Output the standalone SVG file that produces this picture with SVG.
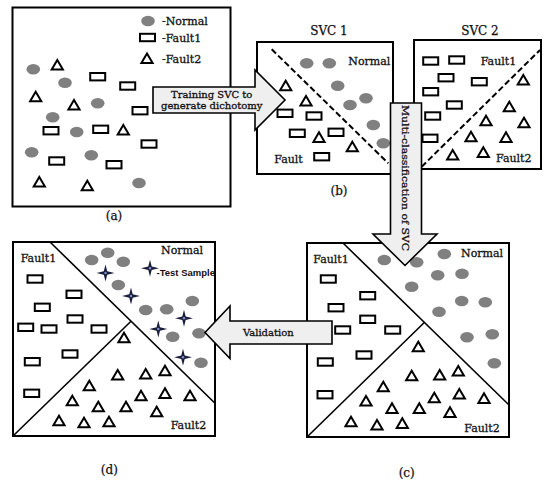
<svg xmlns="http://www.w3.org/2000/svg" xmlns:xlink="http://www.w3.org/1999/xlink" width="550" height="489" viewBox="0 0 550 489">
<style>
.box{fill:#fff;stroke:#000;stroke-width:2}
.sep{stroke:#000;stroke-width:1.6;fill:none}
.dash{stroke:#000;stroke-width:2;stroke-dasharray:6 3;fill:none}
.t{font-family:"DejaVu Serif","Liberation Serif",serif;font-size:11px;fill:#111;stroke:#111;stroke-width:0.3}
.cap{font-family:"DejaVu Serif","Liberation Serif",serif;font-size:12px;fill:#111;text-anchor:middle;stroke:#111;stroke-width:0.25}
.at{font-family:"DejaVu Serif","Liberation Serif",serif;font-size:10px;fill:#111;text-anchor:middle;stroke:#111;stroke-width:0.3}
.arrow{fill:#efefef;stroke:#000;stroke-width:1.6;stroke-linejoin:miter}
.ts{font-family:"Liberation Sans",Arial,sans-serif;font-size:9.5px;font-weight:bold;fill:#111}
</style>
<defs>
<ellipse id="c" rx="6.8" ry="5.3" fill="#808080"/>
<rect id="r" x="-7.5" y="-3.7" width="15" height="7.4" fill="none" stroke="#000" stroke-width="2"/>
<path id="t" d="M0,-5 L5.6,4.6 L-5.6,4.6 Z" fill="none" stroke="#000" stroke-width="2"/>
<g id="s"><path d="M0,-8.5 L1.7,-1.7 L9,0 L1.7,1.7 L0,8.5 L-1.7,1.7 L-9,0 L-1.7,-1.7 Z" fill="#1b1e3b"/><circle r="1.2" fill="#7d95c8"/></g>
</defs>
<rect width="550" height="489" fill="#fff"/>

<g id="panel-a">
<rect class="box" x="12.5" y="7.5" width="218" height="199"/>
<use href="#c" x="148" y="21"/>
<use href="#r" x="147.5" y="37.5"/>
<use href="#t" x="147" y="58.5"/>
<text class="t" x="162" y="25">-Normal</text>
<text class="t" x="162" y="41.5">-Fault1</text>
<text class="t" x="162" y="63">-Fault2</text>
<use href="#c" x="33.3" y="69.3"/>
<use href="#t" x="57.3" y="65"/>
<use href="#c" x="65" y="82.7"/>
<use href="#r" x="97.7" y="76.7"/>
<use href="#r" x="127.7" y="86"/>
<use href="#t" x="35.7" y="96.7"/>
<use href="#t" x="74" y="105"/>
<use href="#c" x="97.7" y="103.3"/>
<use href="#r" x="140" y="110.7"/>
<use href="#c" x="52.7" y="117.3"/>
<use href="#r" x="51" y="130.7"/>
<use href="#c" x="76.7" y="132"/>
<use href="#r" x="100.7" y="129.3"/>
<use href="#t" x="123.3" y="130"/>
<use href="#r" x="149" y="144"/>
<use href="#c" x="31.7" y="152.3"/>
<use href="#c" x="91.3" y="155.3"/>
<use href="#r" x="56.7" y="161"/>
<use href="#r" x="114" y="164.7"/>
<use href="#t" x="39.3" y="182"/>
<use href="#t" x="87.3" y="185.7"/>
<use href="#c" x="139" y="183"/>
<text class="cap" x="114" y="220">(a)</text>
</g>

<g id="panel-b">
<text class="cap" x="329" y="35">SVC 1</text>
<rect class="box" x="257" y="42" width="136" height="132"/>
<line class="dash" x1="271.7" y1="49.3" x2="388.3" y2="163.3"/>
<text class="t" x="348.3" y="65">Normal</text>
<use href="#c" x="306.7" y="63.3"/>
<use href="#c" x="329.3" y="63.3"/>
<use href="#c" x="337.7" y="85.7"/>
<use href="#c" x="350" y="105"/>
<use href="#c" x="366" y="98.3"/>
<use href="#c" x="373.3" y="125"/>
<use href="#c" x="383.3" y="143.3"/>
<use href="#t" x="285.7" y="85.7"/>
<use href="#t" x="306" y="101"/>
<use href="#t" x="319" y="137.3"/>
<use href="#t" x="352.3" y="146.7"/>
<use href="#r" x="285" y="113.3"/>
<use href="#r" x="314" y="116"/>
<use href="#r" x="297.3" y="133.3"/>
<use href="#r" x="336" y="132.3"/>
<use href="#r" x="321.7" y="156.7"/>
<text class="t" x="274.3" y="162.7">Fault</text>
<text class="cap" x="339" y="194.5">(b)</text>
</g>

<g id="panel-svc2">
<text class="cap" x="480" y="35">SVC 2</text>
<rect class="box" x="414" y="40" width="127" height="129"/>
<line class="dash" x1="421.7" y1="166.7" x2="540" y2="50"/>
<text class="t" x="480.7" y="65">Fault1</text>
<text class="t" x="496" y="161.7">Fault2</text>
<use href="#r" x="430.7" y="61"/>
<use href="#r" x="456.7" y="60"/>
<use href="#r" x="446" y="77.7"/>
<use href="#r" x="479.3" y="81.7"/>
<use href="#r" x="430.7" y="91.7"/>
<use href="#r" x="454.3" y="105"/>
<use href="#r" x="432.7" y="116"/>
<use href="#r" x="430" y="138.3"/>
<use href="#t" x="523.3" y="80"/>
<use href="#t" x="509.3" y="106.7"/>
<use href="#t" x="486" y="120.7"/>
<use href="#t" x="524" y="122.7"/>
<use href="#t" x="471" y="136.7"/>
<use href="#t" x="506" y="137.3"/>
<use href="#t" x="452.7" y="155"/>
<use href="#t" x="483.3" y="152.3"/>
</g>

<g id="panel-c">
<rect class="box" x="307" y="243" width="202" height="194"/>
<line class="sep" x1="343" y1="243" x2="509" y2="405"/>
<line class="sep" x1="307" y1="437" x2="424.3" y2="322.5"/>
<text class="t" x="313.3" y="262.7">Fault1</text>
<text class="t" x="461" y="257.3">Normal</text>
<text class="t" x="464.3" y="431.7">Fault2</text>
<use href="#c" x="384.3" y="260"/>
<use href="#c" x="416.7" y="262.3"/>
<use href="#c" x="444.3" y="254"/>
<use href="#c" x="437.7" y="275.3"/>
<use href="#c" x="462" y="273.7"/>
<use href="#c" x="411.7" y="286.7"/>
<use href="#c" x="461.7" y="301"/>
<use href="#c" x="485.3" y="302.3"/>
<use href="#c" x="439" y="311.7"/>
<use href="#c" x="467" y="337.3"/>
<use href="#c" x="492.3" y="334.3"/>
<use href="#c" x="494.3" y="363.3"/>
<use href="#r" x="328.3" y="279"/>
<use href="#r" x="367.7" y="295.7"/>
<use href="#r" x="336" y="307.7"/>
<use href="#r" x="367.7" y="319.3"/>
<use href="#r" x="342.7" y="330"/>
<use href="#r" x="392.7" y="330"/>
<use href="#r" x="364" y="355"/>
<use href="#r" x="325.3" y="362"/>
<use href="#r" x="325" y="394.7"/>
<use href="#t" x="418.3" y="346.7"/>
<use href="#t" x="411.7" y="375.7"/>
<use href="#t" x="439.7" y="375"/>
<use href="#t" x="458.3" y="371"/>
<use href="#t" x="383.3" y="386.7"/>
<use href="#t" x="366" y="401"/>
<use href="#t" x="434.3" y="397.7"/>
<use href="#t" x="459.3" y="394"/>
<use href="#t" x="484" y="398.3"/>
<use href="#t" x="392" y="408.3"/>
<use href="#t" x="419.3" y="408.3"/>
<use href="#t" x="450" y="412.3"/>
<use href="#t" x="351" y="421.7"/>
<use href="#t" x="377" y="425"/>
<use href="#t" x="402.3" y="423.3"/>
<text class="cap" x="406.7" y="477">(c)</text>
</g>

<g id="panel-d">
<rect class="box" x="13" y="242" width="202" height="194"/>
<line class="sep" x1="50" y1="242" x2="215" y2="403.3"/>
<line class="sep" x1="13" y1="436" x2="131" y2="321.2"/>
<text class="t" x="20.7" y="261.7">Fault1</text>
<text class="t" x="161" y="254.3">Normal</text>
<text class="t" x="170.7" y="429">Fault2</text>
<use href="#c" x="91.7" y="260"/>
<use href="#c" x="107.7" y="252.7"/>
<use href="#c" x="123.3" y="261.7"/>
<use href="#c" x="118.3" y="285"/>
<use href="#c" x="145.7" y="310"/>
<use href="#c" x="166.7" y="309.3"/>
<use href="#c" x="192.3" y="301"/>
<use href="#c" x="172.7" y="336.7"/>
<use href="#c" x="199" y="333.3"/>
<use href="#c" x="201" y="362.7"/>
<use href="#s" x="150" y="268.3"/>
<text class="ts" x="156.5" y="276">-Test Sample</text>
<use href="#s" x="105.5" y="273"/>
<use href="#s" x="131" y="296"/>
<use href="#s" x="184" y="318.3"/>
<use href="#s" x="158.3" y="329"/>
<use href="#s" x="183" y="357.3"/>
<use href="#r" x="35" y="279"/>
<use href="#r" x="74" y="294.3"/>
<use href="#r" x="42.3" y="307.3"/>
<use href="#r" x="75" y="319"/>
<use href="#r" x="25.7" y="327.3"/>
<use href="#r" x="49" y="329"/>
<use href="#r" x="99" y="329"/>
<use href="#r" x="70" y="354"/>
<use href="#r" x="32.3" y="361.7"/>
<use href="#r" x="31.7" y="393.3"/>
<use href="#t" x="124" y="337.7"/>
<use href="#t" x="117.7" y="375"/>
<use href="#t" x="145.7" y="374"/>
<use href="#t" x="165" y="370.7"/>
<use href="#t" x="89.3" y="385.7"/>
<use href="#t" x="72.3" y="400.7"/>
<use href="#t" x="141" y="395.7"/>
<use href="#t" x="165" y="393.3"/>
<use href="#t" x="190" y="395.7"/>
<use href="#t" x="98.3" y="406.7"/>
<use href="#t" x="126" y="406.7"/>
<use href="#t" x="156.7" y="411.7"/>
<use href="#t" x="59" y="420.7"/>
<use href="#t" x="84" y="422.7"/>
<use href="#t" x="109" y="421.7"/>
<text class="cap" x="109.3" y="474">(d)</text>
</g>

<g id="connectors">
<g id="arrow-training">
<path class="arrow" d="M153,87 L255,87 L255,70 L285,100 L255,130 L255,113 L153,113 Z"/>
<text class="at" x="211.7" y="97.5">Training SVC to</text>
<text class="at" x="211.7" y="108.5">generate dichotomy</text>
</g>
<g id="arrow-multi">
<path class="arrow" d="M390.5,103 L421.5,103 L421.5,234 L437,234 L405,265.5 L373,234 L390.5,234 Z"/>
<text class="at" transform="translate(401.8,178) rotate(90)" x="0" y="0" font-size="11" textLength="146" lengthAdjust="spacingAndGlyphs">Multi-classification of SVC</text>
</g>
<g id="arrow-validation">
<path class="arrow" d="M332,321 L230,321 L230,306 L205,332.5 L230,358.5 L230,344 L332,344 Z"/>
<text class="at" x="268.3" y="335.7" font-size="11">Validation</text>
</g>
</g>
</svg>
